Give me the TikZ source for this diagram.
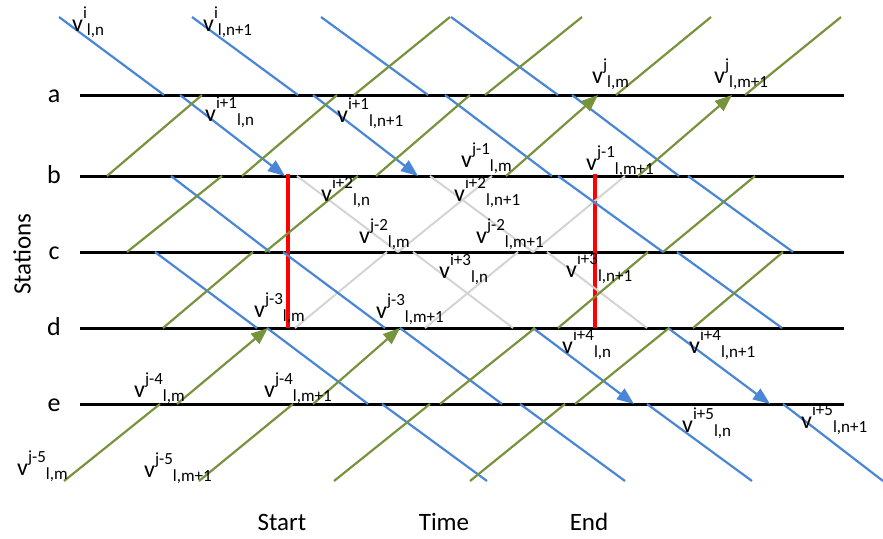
\documentclass[tikz,border=0pt]{standalone}
\usepackage{fontspec}
\setmainfont{Carlito}
\usepackage{tikz}
\usetikzlibrary{arrows.meta}
\definecolor{trainblue}{RGB}{74,134,214}
\definecolor{traingreen}{RGB}{119,147,60}
\definecolor{cutgray}{RGB}{212,212,212}
% v with superscript then subscript, written one after the other
\newcommand{\vl}[2]{v\raisebox{12.5pt}{\fontsize{17}{17}\selectfont #1}\raisebox{-4pt}{\fontsize{17}{17}\selectfont #2}}

\begin{document}
\begin{tikzpicture}[x=1pt,y=-1pt,
  station/.style={line width=3pt,black},
  down/.style={line width=2.2pt,trainblue},
  up/.style={line width=2.2pt,traingreen},
  cancelled/.style={line width=2pt,cutgray},
  cut/.style={line width=4pt,red},
  tip/.style={-{Triangle[length=17pt,width=13pt]}},
  stlab/.style={font=\fontsize{25}{25}\selectfont},
  vlab/.style={anchor=base west,inner sep=0pt,font=\fontsize{24}{24}\selectfont}]
\useasboundingbox (0,0) rectangle (883,538);

% stations
\foreach \y/\s in {95/a,176/b,252/c,328/d,404/e}{
  \draw[station] (80,\y) -- (844,\y);
  \node[stlab,anchor=base,font=\fontsize{26}{26}\selectfont] (st\s) at (54,\y+7) {\s};
}
\node[stlab,rotate=90] (stations) at (22,254) {Stations};

% start and end of the blocked interval
\draw[cut] (288,174) -- (288,328);
\draw[cut] (595,174) -- (595,328);

% cancelled runs
\draw[cancelled] (297,176) -- (398,252) (413,252) -- (513,328)
  (430,176) -- (533,252) (547,252) -- (647,328)
  (295,328) -- (387,252) (398,252) -- (492,176)
  (425,328) -- (518,252) (533,252) -- (625,176);

% trains going down (i)
\draw[down] (155,252) -- (257,328) (267,328) -- (368,404) (382,404) -- (487,481);
\draw[down] (171,176) -- (270,252) (283,252) -- (385,328) (400,328) -- (502,404)
  (520,404) -- (625,481);
\draw[down] (59,17) -- (164,95) (647,404) -- (752,481);
\draw[down,tip] (180,95) -- (285,176);
\draw[down,tip] (533,328) -- (634,404);
\draw[down] (192,17) -- (298,95) (783,404) -- (883,481);
\draw[down,tip] (313,95) -- (418,176);
\draw[down,tip] (668,328) -- (770,404);
\draw[down] (321,17) -- (428,95) (445,95) -- (552,176) (558,176) -- (663,252)
  (677,252) -- (782,328);
\draw[down] (451,17) -- (558,95) (572,95) -- (679,176) (688,176) -- (793,252);

% trains going up (j)
\draw[up] (107,176) -- (202,95);
\draw[up] (127,252) -- (222,176) (242,176) -- (337,95) (354,95) -- (450,17);
\draw[up] (163,328) -- (253,252) (265,252) -- (358,176) (376,176) -- (470,95)
  (485,95) -- (582,17);
\draw[up] (64,481) -- (160,404) (616,95) -- (711,17);
\draw[up,tip] (177,404) -- (268,328);
\draw[up,tip] (506,176) -- (598,95);
\draw[up] (199,481) -- (293,404) (745,95) -- (841,17);
\draw[up,tip] (313,404) -- (400,328);
\draw[up,tip] (638,176) -- (732,95);
\draw[up] (334,481) -- (430,404) (440,404) -- (535,328) (558,328) -- (648,252)
  (663,252) -- (755,176);
\draw[up] (470,481) -- (565,404) (575,404) -- (669,328) (693,328) -- (783,252);

% labels of train n and n+1
\node[vlab] (vn0) at (72,31) {\vl{i}{l,n}};
\node[vlab] (vnp0) at (203,31) {\vl{i}{l,n+1}};
\node[vlab] (vn1) at (205,121) {\vl{i+1}{l,n}};
\node[vlab] (vnp1) at (337,122) {\vl{i+1}{l,n+1}};
\node[vlab] (vn2) at (321,201) {\vl{i+2}{l,n}};
\node[vlab] (vnp2) at (454,201) {\vl{i+2}{l,n+1}};
\node[vlab] (vn3) at (439,278) {\vl{i+3}{l,n}};
\node[vlab] (vnp3) at (566,277) {\vl{i+3}{l,n+1}};
\node[vlab] (vn4) at (562,353) {\vl{i+4}{l,n}};
\node[vlab] (vnp4) at (689,353) {\vl{i+4}{l,n+1}};
\node[vlab] (vn5) at (682,432) {\vl{i+5}{l,n}};
\node[vlab] (vnp5) at (801,428) {\vl{i+5}{l,n+1}};

% labels of train m and m+1
\node[vlab] (vm0) at (592,83) {\vl{j}{l,m}};
\node[vlab] (vmp0) at (714,83) {\vl{j}{l,m+1}};
\node[vlab] (vm1) at (461,167) {\vl{j-1}{l,m}};
\node[vlab] (vmp1) at (586,170) {\vl{j-1}{l,m+1}};
\node[vlab] (vm2) at (359,243) {\vl{j-2}{l,m}};
\node[vlab] (vmp2) at (476,243) {\vl{j-2}{l,m+1}};
\node[vlab] (vm3) at (254,317) {\vl{j-3}{l,m}};
\node[vlab] (vmp3) at (376,318) {\vl{j-3}{l,m+1}};
\node[vlab] (vm4) at (134,397) {\vl{j-4}{l,m}};
\node[vlab] (vmp4) at (264,397) {\vl{j-4}{l,m+1}};
\node[vlab] (vm5) at (17,475) {\vl{j-5}{l,m}};
\node[vlab] (vmp5) at (144,477) {\vl{j-5}{l,m+1}};

% time axis
\node[stlab,anchor=base] (start) at (282,530) {Start};
\node[stlab,anchor=base] (time) at (444,530) {Time};
\node[stlab,anchor=base] (end) at (589,530) {End};
\end{tikzpicture}
\end{document}
